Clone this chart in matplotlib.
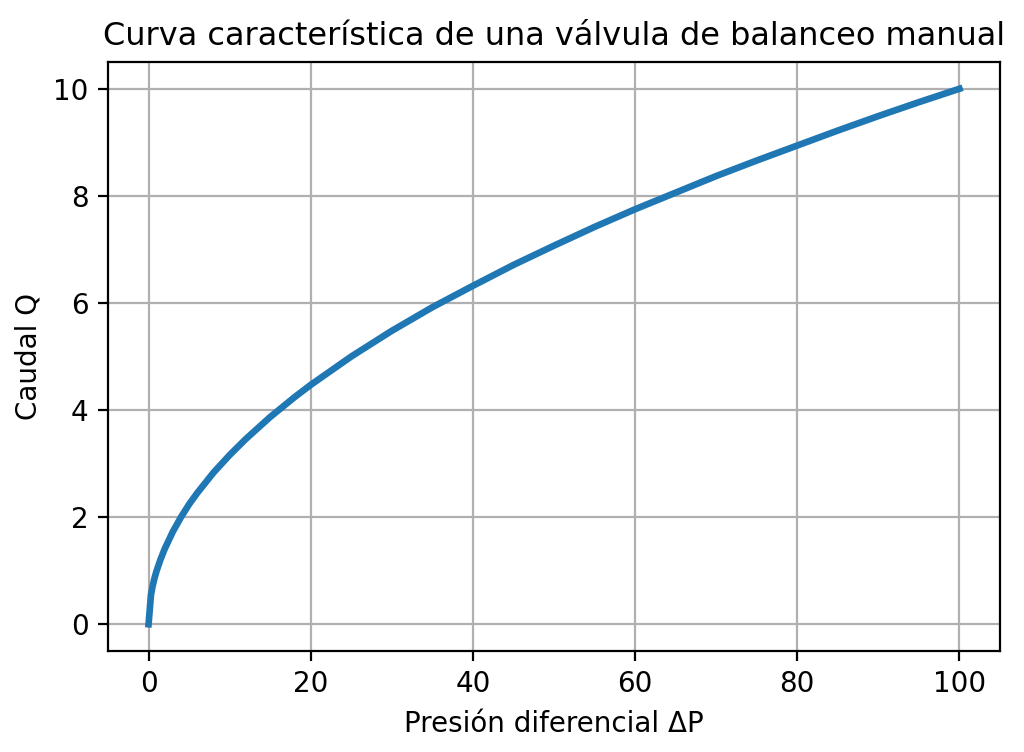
import matplotlib
matplotlib.use("Agg")
import matplotlib.pyplot as plt

# Values
delta_p = [0, 0.3, 0.5, 0.75, 1, 1.5, 2, 3, 4, 5, 6, 8, 10, 12, 15, 18, 20,
           25, 30, 35, 40, 45, 50, 55, 60, 65, 70, 75, 80, 85, 90, 95, 100]
caudal = [0, 0.55, 0.71, 0.87, 1.0, 1.22, 1.41, 1.73, 2.0, 2.24, 2.45, 2.83,
          3.16, 3.46, 3.87, 4.24, 4.47, 5.0, 5.48, 5.92, 6.32, 6.71, 7.07, 7.42, 7.75, 8.06,
          8.37, 8.66, 8.94, 9.22, 9.49, 9.75, 10.0]

fig = plt.figure(figsize=(5.12, 3.76), dpi=200)
ax = fig.add_axes([108/1024, 1 - 651/752, (1000 - 108)/1024, (651 - 62)/752])
ax.plot(delta_p, caudal, color="#1f77b4", linewidth=2.4)
ax.set_title("Curva característica de una válvula de balanceo manual", fontsize=11.5)
ax.set_xlabel("Presión diferencial ΔP")
ax.set_ylabel("Caudal Q")
ax.grid(True)
fig.savefig("out.png", dpi=200)
